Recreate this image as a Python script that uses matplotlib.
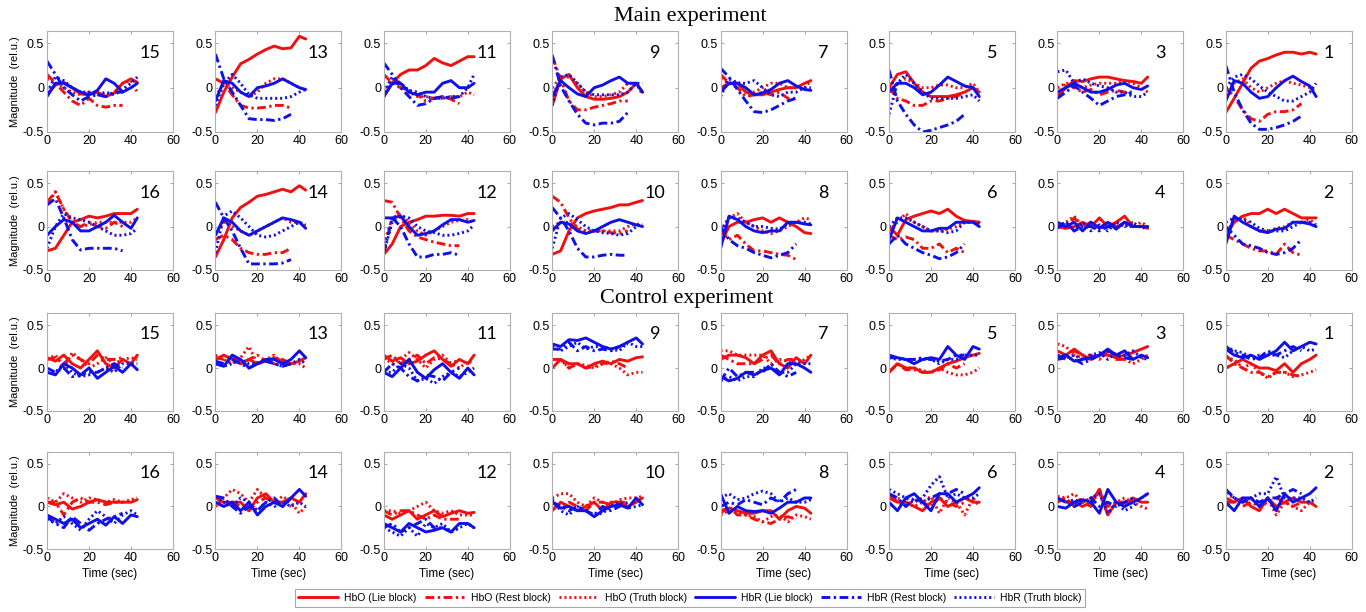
import numpy as np
import matplotlib.pyplot as plt

# time axis (sec)
t_full = [0, 4, 8, 12, 16, 20, 24, 28, 32, 36, 40, 43]
t_rest = [0, 4, 8, 12, 16, 20, 24, 28, 32, 36]

ids_upper = [15, 13, 11, 9, 7, 5, 3, 1]
ids_lower = [16, 14, 12, 10, 8, 6, 4, 2]

# ---------------- Main experiment, upper row ----------------
main_up_hbo_lie = [
    [-0.08, 0.03, 0.06, 0.0, -0.07, -0.08, -0.05, -0.1, -0.06, 0.05, 0.1, 0.06],
    [-0.28, -0.05, 0.12, 0.27, 0.32, 0.38, 0.43, 0.47, 0.44, 0.45, 0.58, 0.55],
    [-0.1, 0.05, 0.15, 0.2, 0.2, 0.25, 0.33, 0.28, 0.25, 0.3, 0.35, 0.35],
    [-0.2, 0.1, 0.15, 0.0, -0.1, -0.13, -0.13, -0.12, -0.1, -0.05, 0.05, -0.05],
    [0.0, 0.05, 0.05, -0.05, -0.08, -0.08, -0.05, -0.02, 0.0, 0.0, 0.05, 0.08],
    [0.0, 0.15, 0.18, 0.05, -0.05, -0.1, -0.1, -0.1, -0.08, -0.05, 0.0, -0.05],
    [-0.1, 0.0, 0.08, 0.07, 0.1, 0.12, 0.12, 0.1, 0.08, 0.07, 0.05, 0.12],
    [-0.28, -0.12, 0.05, 0.22, 0.3, 0.33, 0.37, 0.4, 0.4, 0.38, 0.4, 0.38],
]
main_up_hbo_rest = [
    [0.15, 0.05, -0.05, -0.15, -0.2, -0.12, -0.2, -0.22, -0.2, -0.2],
    [0.1, 0.05, -0.08, -0.2, -0.23, -0.23, -0.22, -0.2, -0.2, -0.23],
    [0.15, 0.05, 0.0, -0.03, -0.08, -0.15, -0.12, -0.1, -0.13, -0.18],
    [0.35, 0.1, -0.15, -0.25, -0.25, -0.22, -0.2, -0.18, -0.15, -0.15],
    [0.15, 0.05, 0.0, -0.1, -0.08, -0.05, -0.08, -0.05, -0.12, -0.12],
    [0.0, -0.12, -0.15, -0.2, -0.2, -0.15, -0.15, -0.12, -0.1, -0.05],
    [-0.1, 0.05, 0.0, -0.05, -0.02, -0.08, -0.05, -0.03, -0.05, -0.05],
    [0.0, -0.1, -0.25, -0.35, -0.38, -0.3, -0.27, -0.27, -0.25, -0.18],
]
main_up_hbo_truth = [
    [0.1, 0.06, 0.0, -0.05, -0.08, -0.05, -0.08, -0.1, -0.05, 0.05, 0.08, -0.05],
    [-0.1, 0.05, 0.0, -0.05, -0.1, -0.05, 0.05, 0.1, 0.1, 0.05, 0.0, -0.02],
    [-0.1, 0.1, 0.05, -0.05, -0.1, -0.1, -0.12, -0.12, -0.1, -0.1, -0.05, -0.08],
    [0.0, 0.12, 0.12, 0.05, -0.05, -0.1, -0.1, -0.08, -0.05, 0.05, 0.05, -0.08],
    [0.1, 0.05, 0.08, -0.05, -0.05, 0.0, 0.05, 0.05, 0.0, 0.0, 0.0, 0.08],
    [-0.05, 0.05, 0.1, 0.05, 0.0, 0.0, 0.03, 0.03, 0.0, 0.0, 0.05, -0.05],
    [0.0, 0.05, 0.05, 0.0, 0.03, 0.05, 0.05, 0.05, 0.08, 0.05, 0.0, -0.05],
    [-0.1, 0.05, 0.1, 0.0, -0.05, 0.0, 0.05, 0.08, 0.05, 0.03, 0.0, -0.05],
]
main_up_hbr_lie = [
    [-0.1, 0.05, 0.05, 0.0, -0.05, -0.08, -0.03, 0.1, 0.05, -0.05, 0.0, 0.05],
    [-0.15, 0.08, 0.05, -0.05, -0.1, 0.0, 0.02, 0.05, 0.1, 0.05, 0.0, -0.02],
    [-0.1, 0.05, 0.05, -0.05, -0.08, -0.05, -0.05, 0.05, 0.08, 0.0, 0.0, 0.05],
    [-0.1, 0.08, 0.0, -0.07, -0.1, 0.0, 0.03, 0.08, 0.12, 0.05, 0.05, -0.05],
    [-0.05, 0.05, 0.05, 0.0, -0.08, -0.06, -0.02, 0.05, 0.08, 0.02, -0.02, -0.03],
    [-0.05, 0.05, 0.05, 0.0, -0.08, -0.05, 0.03, 0.12, 0.07, 0.02, 0.0, -0.1],
    [-0.05, 0.0, 0.05, 0.0, -0.05, -0.05, -0.02, 0.03, 0.05, 0.0, -0.02, 0.02],
    [-0.15, 0.08, 0.05, -0.05, -0.12, -0.1, 0.0, 0.08, 0.13, 0.07, 0.02, -0.1],
]
main_up_hbr_rest = [
    [0.3, 0.15, 0.0, -0.08, -0.15, -0.1, -0.08, -0.1, -0.05, -0.05],
    [0.38, 0.1, -0.05, -0.2, -0.35, -0.36, -0.36, -0.37, -0.35, -0.3],
    [0.28, 0.15, 0.0, -0.1, -0.2, -0.18, -0.12, -0.1, -0.12, -0.1],
    [0.37, 0.02, -0.15, -0.3, -0.4, -0.42, -0.4, -0.4, -0.38, -0.28],
    [0.22, 0.12, -0.02, -0.15, -0.27, -0.28, -0.25, -0.2, -0.15, -0.12],
    [0.2, -0.15, -0.3, -0.42, -0.5, -0.48, -0.45, -0.42, -0.38, -0.3],
    [-0.12, -0.05, 0.02, -0.05, -0.12, -0.2, -0.15, -0.1, -0.08, -0.05],
    [0.25, -0.05, -0.25, -0.4, -0.47, -0.47, -0.45, -0.42, -0.38, -0.32],
]
main_up_hbr_truth = [
    [-0.05, 0.12, 0.08, 0.0, -0.05, -0.05, -0.08, -0.05, -0.08, -0.02, 0.05, 0.12],
    [-0.2, 0.05, 0.15, 0.05, -0.08, -0.12, -0.12, -0.12, -0.12, -0.1, -0.05, -0.02],
    [-0.05, 0.12, 0.05, -0.03, -0.05, -0.1, -0.12, -0.12, -0.1, -0.1, 0.0, 0.15],
    [-0.2, 0.12, 0.15, 0.05, -0.05, -0.08, -0.08, -0.08, -0.08, -0.05, 0.05, 0.05],
    [-0.1, 0.1, 0.05, 0.05, 0.08, 0.0, -0.08, -0.1, -0.05, -0.05, 0.0, 0.0],
    [-0.3, 0.05, 0.15, 0.05, -0.05, -0.12, -0.12, -0.12, -0.12, -0.1, -0.08, -0.15],
    [0.18, 0.2, 0.05, 0.1, 0.05, 0.02, 0.0, -0.05, -0.05, -0.1, -0.1, -0.05],
    [0.0, 0.12, 0.15, 0.1, 0.02, -0.05, -0.1, -0.15, -0.15, -0.1, -0.05, 0.05],
]

# ---------------- Main experiment, lower row ----------------
main_lo_hbo_lie = [
    [-0.28, -0.25, -0.1, 0.05, 0.08, 0.12, 0.1, 0.12, 0.15, 0.15, 0.15, 0.2],
    [-0.35, -0.15, 0.1, 0.22, 0.28, 0.35, 0.37, 0.4, 0.43, 0.4, 0.47, 0.42],
    [-0.32, -0.2, 0.0, 0.05, 0.08, 0.12, 0.12, 0.13, 0.13, 0.12, 0.15, 0.15],
    [-0.32, -0.28, -0.05, 0.1, 0.15, 0.18, 0.2, 0.22, 0.25, 0.25, 0.28, 0.3],
    [-0.2, 0.0, 0.05, 0.05, 0.08, 0.1, 0.05, 0.1, 0.05, 0.0, -0.07, -0.08],
    [0.0, -0.1, 0.08, 0.12, 0.15, 0.18, 0.15, 0.2, 0.12, 0.07, 0.06, 0.05],
    [0.0, -0.02, 0.0, 0.05, 0.0, 0.1, 0.0, 0.05, 0.12, 0.0, 0.0, -0.02],
    [-0.1, 0.05, 0.12, 0.15, 0.15, 0.2, 0.15, 0.2, 0.15, 0.1, 0.1, 0.1],
]
main_lo_hbo_rest = [
    [0.28, 0.4, 0.2, 0.05, 0.0, 0.05, 0.0, -0.02, 0.05, 0.0],
    [-0.15, -0.1, -0.15, -0.25, -0.3, -0.32, -0.32, -0.3, -0.3, -0.25],
    [0.3, 0.28, 0.1, -0.05, -0.12, -0.15, -0.18, -0.2, -0.22, -0.22],
    [0.35, 0.28, 0.1, -0.03, -0.05, -0.05, -0.05, -0.07, -0.08, -0.05],
    [-0.05, -0.15, -0.1, -0.2, -0.28, -0.28, -0.3, -0.32, -0.33, -0.38],
    [-0.1, -0.15, -0.12, -0.15, -0.25, -0.25, -0.2, -0.3, -0.25, -0.3],
    [0.02, -0.02, 0.1, 0.0, 0.05, -0.02, 0.05, 0.0, 0.03, 0.05],
    [-0.1, -0.15, -0.2, -0.25, -0.28, -0.28, -0.32, -0.2, -0.3, -0.33],
]
main_lo_hbo_truth = [
    [0.25, 0.4, 0.2, 0.05, 0.0, 0.02, 0.05, 0.05, 0.05, 0.05, 0.05, 0.1],
    [-0.1, 0.05, 0.0, -0.05, -0.1, -0.05, 0.0, 0.05, 0.1, 0.05, 0.05, 0.0],
    [-0.2, 0.1, 0.15, 0.05, -0.05, -0.1, -0.05, 0.0, 0.05, 0.07, 0.08, 0.05],
    [0.0, 0.05, 0.05, 0.0, -0.05, -0.05, -0.05, -0.05, -0.05, 0.0, 0.03, 0.02],
    [-0.05, 0.1, 0.15, 0.05, 0.0, -0.05, -0.08, -0.05, 0.0, 0.05, 0.1, 0.08],
    [-0.05, 0.05, 0.15, 0.05, 0.0, -0.05, -0.05, -0.03, 0.0, 0.05, 0.05, 0.05],
    [0.0, 0.05, 0.12, 0.0, 0.05, 0.0, 0.0, 0.05, 0.0, 0.0, 0.05, 0.0],
    [-0.05, 0.05, 0.12, 0.0, -0.05, -0.05, -0.02, 0.0, 0.05, 0.05, 0.08, 0.02],
]
main_lo_hbr_lie = [
    [-0.1, 0.0, 0.08, 0.05, -0.05, -0.05, 0.0, 0.05, 0.13, 0.05, -0.02, 0.1],
    [-0.1, 0.1, 0.05, -0.05, -0.1, -0.05, 0.0, 0.05, 0.1, 0.08, 0.05, -0.02],
    [0.1, 0.1, 0.12, 0.0, -0.1, -0.08, -0.05, 0.02, 0.08, 0.08, 0.05, 0.07],
    [-0.05, 0.05, 0.03, -0.05, -0.08, -0.05, 0.0, 0.05, 0.08, 0.05, 0.02, 0.0],
    [-0.25, 0.12, 0.08, 0.0, -0.05, -0.07, -0.05, -0.05, 0.05, 0.05, 0.03, 0.02],
    [-0.15, 0.1, 0.05, 0.0, -0.05, -0.05, -0.02, -0.02, 0.05, 0.05, 0.05, 0.0],
    [0.05, 0.0, 0.05, -0.05, 0.05, -0.02, 0.05, -0.03, 0.05, 0.0, 0.0, 0.0],
    [-0.2, 0.12, 0.05, 0.0, -0.05, -0.07, -0.03, -0.02, 0.05, 0.05, 0.03, 0.0],
]
main_lo_hbr_rest = [
    [0.25, 0.32, 0.1, -0.15, -0.27, -0.25, -0.25, -0.25, -0.25, -0.28],
    [0.28, 0.1, -0.05, -0.25, -0.43, -0.43, -0.43, -0.43, -0.42, -0.38],
    [-0.3, 0.1, 0.0, -0.2, -0.35, -0.35, -0.32, -0.32, -0.3, -0.33],
    [0.22, 0.1, -0.05, -0.25, -0.35, -0.35, -0.33, -0.32, -0.33, -0.33],
    [0.0, -0.15, -0.22, -0.25, -0.3, -0.33, -0.36, -0.33, -0.3, -0.2],
    [-0.2, -0.1, -0.2, -0.25, -0.3, -0.33, -0.37, -0.35, -0.3, -0.2],
    [-0.02, 0.05, -0.05, 0.0, 0.0, -0.05, 0.0, -0.02, 0.05, 0.0],
    [0.0, -0.1, -0.2, -0.22, -0.25, -0.3, -0.32, -0.3, -0.25, -0.15],
]
main_lo_hbr_truth = [
    [-0.25, 0.0, 0.15, 0.1, 0.08, 0.05, 0.0, -0.05, -0.1, -0.1, -0.08, -0.02],
    [-0.3, 0.12, 0.18, 0.1, 0.0, -0.1, -0.12, -0.1, -0.05, 0.0, 0.05, 0.02],
    [-0.3, 0.05, 0.12, 0.1, 0.0, -0.05, -0.07, -0.1, -0.1, -0.08, -0.05, 0.02],
    [-0.25, 0.1, 0.15, 0.08, 0.0, -0.05, -0.07, -0.08, -0.1, -0.08, 0.0, 0.03],
    [-0.05, 0.1, 0.1, 0.05, 0.0, 0.0, -0.02, -0.03, 0.03, 0.05, 0.05, 0.03],
    [0.0, 0.1, 0.1, 0.05, 0.0, -0.05, -0.05, -0.07, -0.05, 0.05, 0.05, 0.03],
    [0.0, 0.05, -0.05, 0.05, -0.05, 0.02, -0.05, 0.05, 0.0, 0.05, -0.02, 0.0],
    [0.05, 0.1, 0.08, 0.05, -0.02, -0.05, -0.05, -0.05, 0.0, 0.05, 0.05, 0.0],
]

# ---------------- Control experiment, upper row ----------------
ctrl_up_hbo_lie = [
    [0.12, 0.08, 0.15, 0.05, 0.0, 0.1, 0.2, 0.05, 0.0, 0.1, 0.05, 0.15],
    [0.1, 0.15, 0.1, 0.05, 0.1, 0.05, 0.08, 0.12, 0.08, 0.05, 0.08, 0.12],
    [0.15, 0.08, 0.12, 0.05, 0.08, 0.15, 0.2, 0.1, 0.02, 0.1, 0.05, 0.15],
    [0.0, 0.1, 0.05, 0.05, 0.0, 0.05, 0.08, 0.05, 0.1, 0.08, 0.12, 0.13],
    [0.1, 0.15, 0.15, 0.12, 0.05, 0.15, 0.2, 0.05, 0.0, 0.12, 0.05, 0.15],
    [-0.05, 0.05, 0.0, 0.0, -0.05, -0.05, 0.0, 0.05, 0.08, 0.12, 0.15, 0.17],
    [0.2, 0.15, 0.22, 0.15, 0.1, 0.15, 0.15, 0.12, 0.15, 0.18, 0.22, 0.25],
    [0.0, 0.05, 0.1, 0.05, 0.0, 0.0, -0.03, 0.05, -0.05, 0.05, 0.1, 0.15],
]
ctrl_up_hbo_rest = [
    [0.1, 0.12, 0.05, 0.15, 0.1, 0.05, 0.15, 0.1, 0.1, 0.12],
    [0.12, 0.1, 0.15, 0.05, 0.1, 0.15, 0.08, 0.05, 0.1, 0.05],
    [0.1, 0.15, 0.05, 0.1, 0.15, 0.05, 0.12, 0.1, 0.05, 0.1],
    [0.1, 0.1, 0.0, 0.05, 0.0, 0.02, 0.05, 0.08, 0.05, 0.0],
    [0.15, 0.1, 0.05, 0.05, 0.05, 0.1, 0.15, 0.05, 0.1, 0.1],
    [-0.05, 0.05, -0.02, -0.02, -0.05, -0.05, -0.02, 0.05, 0.0, 0.05],
    [0.15, 0.1, 0.2, 0.15, 0.15, 0.1, 0.2, 0.1, 0.1, 0.15],
    [0.15, 0.05, 0.0, -0.05, -0.05, -0.1, -0.05, -0.05, -0.08, -0.1],
]
ctrl_up_hbo_truth = [
    [0.1, 0.15, 0.0, 0.18, 0.1, 0.0, 0.05, 0.12, 0.05, 0.1, 0.12, 0.1],
    [0.15, 0.1, 0.05, 0.12, 0.25, 0.05, 0.1, 0.15, 0.05, 0.05, 0.05, 0.0],
    [0.12, 0.05, 0.1, 0.18, 0.1, 0.0, 0.1, 0.15, 0.05, 0.0, 0.08, 0.05],
    [0.1, 0.1, 0.0, 0.05, 0.03, 0.0, 0.05, 0.05, 0.0, -0.08, -0.05, -0.05],
    [0.2, 0.2, 0.15, 0.15, 0.15, 0.15, 0.05, 0.1, 0.08, 0.05, 0.1, 0.15],
    [-0.05, 0.05, 0.0, 0.0, -0.03, -0.05, 0.0, -0.05, -0.08, -0.08, -0.05, 0.0],
    [0.28, 0.25, 0.15, 0.12, 0.1, 0.15, 0.18, 0.12, 0.1, 0.05, 0.1, 0.15],
    [0.12, 0.1, 0.0, 0.05, -0.05, -0.12, -0.05, -0.05, -0.1, -0.08, -0.05, -0.02],
]
ctrl_up_hbr_lie = [
    [-0.05, -0.08, 0.05, 0.0, -0.08, 0.0, -0.12, -0.05, 0.02, -0.05, 0.05, -0.02],
    [0.05, 0.02, 0.15, 0.1, 0.0, 0.05, 0.1, 0.1, 0.05, 0.1, 0.2, 0.12],
    [-0.05, -0.1, 0.0, 0.1, -0.05, -0.12, -0.02, 0.05, -0.05, -0.12, 0.0, -0.08],
    [0.28, 0.25, 0.33, 0.32, 0.35, 0.3, 0.25, 0.22, 0.25, 0.3, 0.35, 0.28],
    [-0.1, -0.15, -0.12, -0.05, -0.08, -0.03, 0.0, -0.08, 0.05, 0.05, 0.0, -0.05],
    [0.15, 0.12, 0.1, 0.05, 0.1, 0.12, 0.1, 0.25, 0.15, 0.1, 0.25, 0.22],
    [0.12, 0.15, 0.08, 0.1, 0.12, 0.15, 0.22, 0.15, 0.2, 0.1, 0.15, 0.12],
    [0.22, 0.15, 0.12, 0.15, 0.1, 0.15, 0.2, 0.3, 0.2, 0.25, 0.3, 0.28],
]
ctrl_up_hbr_rest = [
    [0.0, -0.05, 0.0, -0.1, -0.08, -0.05, -0.05, 0.0, 0.05, 0.0],
    [0.08, 0.05, 0.1, 0.05, 0.0, 0.05, 0.08, 0.05, 0.02, 0.05],
    [-0.05, 0.05, 0.0, -0.1, -0.15, -0.08, -0.1, -0.15, -0.05, 0.0],
    [0.22, 0.22, 0.3, 0.2, 0.25, 0.2, 0.22, 0.2, 0.25, 0.28],
    [-0.15, 0.0, -0.1, -0.05, -0.05, -0.05, 0.05, -0.05, -0.1, -0.05],
    [0.12, 0.12, 0.1, 0.1, 0.12, 0.1, 0.08, 0.1, 0.15, 0.15],
    [0.1, 0.12, 0.1, 0.05, 0.1, 0.15, 0.2, 0.15, 0.12, 0.1],
    [0.25, 0.18, 0.15, 0.1, 0.12, 0.2, 0.15, 0.2, 0.25, 0.2],
]
ctrl_up_hbr_truth = [
    [-0.05, -0.05, 0.05, -0.05, -0.1, -0.08, -0.05, 0.0, -0.05, 0.05, 0.05, 0.05],
    [0.05, 0.02, 0.05, 0.1, 0.05, 0.05, 0.1, 0.05, 0.02, 0.05, 0.1, 0.05],
    [-0.05, -0.05, 0.05, 0.0, -0.15, -0.12, -0.18, -0.1, -0.05, -0.1, -0.05, 0.0],
    [0.25, 0.2, 0.25, 0.3, 0.22, 0.25, 0.25, 0.22, 0.2, 0.3, 0.25, 0.25],
    [-0.15, -0.1, -0.15, -0.1, -0.1, 0.0, 0.0, -0.05, -0.05, 0.05, 0.05, 0.05],
    [0.12, 0.1, 0.1, 0.1, 0.1, 0.1, 0.05, 0.1, 0.1, 0.15, 0.15, 0.15],
    [0.15, 0.12, 0.15, 0.1, 0.15, 0.18, 0.1, 0.18, 0.15, 0.2, 0.12, 0.1],
    [0.25, 0.2, 0.18, 0.12, 0.15, 0.15, 0.15, 0.12, 0.2, 0.25, 0.2, 0.22],
]

# ---------------- Control experiment, lower row ----------------
ctrl_lo_hbo_lie = [
    [0.05, 0.02, 0.05, -0.03, 0.0, 0.05, 0.08, 0.05, 0.05, 0.05, 0.05, 0.08],
    [0.1, 0.05, 0.05, 0.05, -0.05, 0.1, 0.15, 0.05, 0.05, 0.1, 0.05, 0.15],
    [-0.1, -0.15, -0.1, -0.05, -0.15, -0.1, -0.05, -0.12, -0.08, -0.05, -0.08, -0.07],
    [-0.05, 0.05, 0.0, -0.05, 0.0, 0.05, -0.05, 0.05, 0.05, 0.0, 0.05, 0.1],
    [-0.05, -0.02, -0.05, -0.08, -0.08, -0.05, -0.05, -0.15, -0.05, 0.0, -0.02, -0.08],
    [0.15, 0.05, 0.05, 0.0, -0.05, 0.05, 0.1, 0.0, 0.05, 0.1, 0.05, 0.05],
    [0.1, 0.05, 0.05, 0.0, 0.05, 0.2, -0.1, 0.05, 0.0, 0.1, 0.05, 0.05],
    [0.1, 0.05, 0.1, 0.0, -0.05, 0.1, 0.0, 0.05, 0.1, 0.05, 0.05, 0.0],
]
ctrl_lo_hbo_rest = [
    [0.05, 0.05, -0.1, 0.05, 0.1, 0.05, 0.05, 0.02, 0.05, 0.05],
    [0.05, 0.0, 0.05, 0.0, -0.05, 0.05, 0.1, 0.05, 0.05, 0.0],
    [-0.05, -0.1, -0.05, -0.05, -0.1, -0.15, -0.1, -0.15, -0.15, -0.15],
    [0.05, 0.0, 0.05, 0.0, -0.05, 0.05, 0.05, 0.02, 0.05, 0.05],
    [-0.08, 0.0, -0.1, -0.1, -0.15, -0.18, -0.2, -0.15, -0.12, -0.15],
    [0.1, 0.05, 0.0, 0.08, 0.05, 0.0, 0.1, 0.05, 0.0, 0.05],
    [0.05, 0.1, 0.0, 0.05, 0.0, 0.2, 0.0, 0.05, 0.05, 0.05],
    [0.05, 0.05, 0.0, 0.05, 0.0, 0.05, 0.1, 0.05, 0.0, 0.05],
]
ctrl_lo_hbo_truth = [
    [0.1, 0.05, 0.15, 0.1, 0.05, 0.1, 0.08, 0.05, 0.08, 0.05, 0.08, 0.1],
    [0.0, 0.1, 0.2, 0.15, 0.05, 0.2, 0.1, 0.05, 0.12, 0.05, -0.08, 0.0],
    [-0.05, -0.05, -0.08, -0.05, 0.0, 0.05, -0.05, -0.08, -0.05, -0.1, -0.1, -0.1],
    [0.1, 0.15, 0.15, 0.05, 0.0, 0.1, 0.05, 0.02, 0.08, 0.1, 0.1, 0.12],
    [-0.1, -0.05, -0.08, -0.1, -0.12, -0.18, -0.12, -0.1, -0.18, -0.1, -0.12, -0.15],
    [0.15, 0.1, 0.05, 0.0, 0.05, 0.12, -0.08, 0.1, 0.05, -0.1, 0.1, 0.0],
    [0.12, 0.1, 0.15, 0.05, 0.1, 0.15, -0.1, 0.05, 0.1, 0.05, 0.0, -0.03],
    [0.15, 0.1, 0.05, 0.1, 0.0, 0.1, -0.1, 0.05, 0.0, -0.05, 0.05, 0.03],
]
ctrl_lo_hbr_lie = [
    [-0.1, -0.15, -0.2, -0.15, -0.25, -0.2, -0.15, -0.22, -0.12, -0.2, -0.1, -0.12],
    [0.05, 0.0, 0.05, -0.05, 0.05, -0.1, 0.0, 0.05, 0.0, 0.1, 0.2, 0.12],
    [-0.2, -0.25, -0.3, -0.2, -0.25, -0.3, -0.28, -0.25, -0.3, -0.2, -0.2, -0.25],
    [0.05, -0.02, 0.0, -0.05, -0.05, -0.12, -0.05, 0.0, 0.02, -0.02, 0.1, 0.02],
    [0.15, -0.08, 0.0, -0.05, -0.06, -0.05, -0.08, -0.02, 0.05, 0.05, 0.1, 0.1],
    [0.05, -0.05, 0.1, 0.15, 0.05, -0.05, 0.15, 0.15, 0.05, 0.1, 0.15, 0.22],
    [0.0, -0.02, 0.05, 0.08, 0.05, -0.08, 0.2, 0.05, 0.0, 0.05, 0.1, 0.15],
    [0.05, -0.05, 0.1, 0.1, 0.0, 0.1, -0.05, 0.15, 0.05, 0.1, 0.15, 0.22],
]
ctrl_lo_hbr_rest = [
    [-0.12, -0.2, -0.25, -0.12, -0.2, -0.28, -0.2, -0.15, -0.12, -0.08],
    [0.12, 0.1, 0.0, -0.08, 0.0, -0.05, 0.05, 0.1, 0.0, 0.1],
    [-0.25, -0.2, -0.3, -0.25, -0.2, -0.15, -0.25, -0.25, -0.3, -0.25],
    [0.05, 0.0, -0.05, 0.0, -0.05, -0.1, 0.0, -0.05, 0.0, 0.05],
    [0.0, 0.05, 0.02, 0.08, 0.05, 0.02, 0.1, 0.05, 0.15, 0.2],
    [0.15, 0.1, 0.0, 0.1, 0.05, 0.1, 0.15, 0.15, 0.2, 0.15],
    [0.1, 0.05, 0.0, 0.05, 0.1, 0.0, 0.05, 0.0, 0.05, 0.1],
    [0.2, 0.1, 0.05, 0.1, 0.05, 0.1, 0.1, 0.15, 0.2, 0.15],
]
ctrl_lo_hbr_truth = [
    [-0.15, -0.2, -0.12, -0.2, -0.28, -0.15, -0.05, -0.12, -0.2, -0.1, -0.05, -0.1],
    [0.12, 0.05, 0.0, 0.1, 0.05, -0.05, 0.05, 0.0, 0.05, 0.0, 0.05, 0.0],
    [-0.25, -0.3, -0.35, -0.25, -0.35, -0.2, -0.25, -0.2, -0.3, -0.25, -0.2, -0.25],
    [0.08, -0.05, -0.1, 0.0, -0.05, -0.1, -0.08, 0.0, 0.05, -0.02, 0.0, 0.02],
    [0.1, 0.15, 0.08, 0.1, 0.15, 0.18, 0.15, 0.05, 0.1, 0.05, 0.05, 0.08],
    [0.2, 0.15, 0.1, 0.05, 0.1, 0.25, 0.35, 0.1, 0.15, 0.1, 0.1, 0.15],
    [0.1, 0.05, 0.08, 0.05, 0.1, 0.15, -0.08, 0.05, -0.05, 0.0, 0.1, 0.15],
    [0.2, 0.1, 0.05, 0.1, 0.15, 0.15, 0.35, 0.1, 0.1, 0.1, 0.05, 0.1],
]

series_labels = ['HbO (Lie block)', 'HbO (Rest block)', 'HbO (Truth block)',
                 'HbR (Lie block)', 'HbR (Rest block)', 'HbR (Truth block)']

RED = '#f01010'
BLUE = '#1010e8'
DASHDOT = (0, (3.0, 1.2, 0.8, 1.2))
DOTTED = (0, (0.7, 1.0))
styles = [(RED, '-'), (RED, DASHDOT), (RED, DOTTED),
          (BLUE, '-'), (BLUE, DASHDOT), (BLUE, DOTTED)]

rows = [
    (ids_upper, [main_up_hbo_lie, main_up_hbo_rest, main_up_hbo_truth,
                 main_up_hbr_lie, main_up_hbr_rest, main_up_hbr_truth]),
    (ids_lower, [main_lo_hbo_lie, main_lo_hbo_rest, main_lo_hbo_truth,
                 main_lo_hbr_lie, main_lo_hbr_rest, main_lo_hbr_truth]),
    (ids_upper, [ctrl_up_hbo_lie, ctrl_up_hbo_rest, ctrl_up_hbo_truth,
                 ctrl_up_hbr_lie, ctrl_up_hbr_rest, ctrl_up_hbr_truth]),
    (ids_lower, [ctrl_lo_hbo_lie, ctrl_lo_hbo_rest, ctrl_lo_hbo_truth,
                 ctrl_lo_hbr_lie, ctrl_lo_hbr_rest, ctrl_lo_hbr_truth]),
]

# pixel geometry of the panels (top, bottom) for each row
W, H = 1366, 612
row_px = [(31, 132), (171, 270), (313, 411), (452, 549)]
col_left0, col_pitch, col_w = 47, 168.4, 126

plt.rcParams['font.family'] = ['Liberation Sans', 'DejaVu Sans']

fig = plt.figure(figsize=(W / 100, H / 100), dpi=100)
handles = None

for r, (ids, series) in enumerate(rows):
    top, bot = row_px[r]
    for c in range(8):
        left = col_left0 + c * col_pitch
        ax = fig.add_axes([left / W, 1 - bot / H, col_w / W, (bot - top) / H])
        lines = []
        for s, data in enumerate(series):
            col, ls = styles[s]
            t = t_rest if s in (1, 4) else t_full
            ln, = ax.plot(t, data[c], color=col, linestyle=ls, linewidth=2.1,
                          solid_capstyle='round', label=series_labels[s])
            lines.append(ln)
        if handles is None:
            handles = lines
        ax.set_xlim(0, 60)
        ax.set_ylim(-0.5, 0.64)
        ax.set_xticks([0, 20, 40, 60])
        ax.set_yticks([-0.5, 0, 0.5])
        ax.set_yticklabels(['-0.5', '0', '0.5'])
        ax.tick_params(direction='in', length=2, width=0.6, color='#999999',
                       labelsize=9, pad=2, top=True, right=True)
        for sp in ax.spines.values():
            sp.set_color('#b0b0b0')
            sp.set_linewidth(0.8)
        ax.text(49, 0.39, str(ids[c]), fontsize=13, ha='center', va='center',
                family=['Lato', 'DejaVu Sans'])
        if c == 0:
            ax.set_ylabel('Magnitude  (rel.u.)', fontsize=8, labelpad=2)
        if r == 3:
            ax.set_xlabel('Time (sec)', fontsize=8.5, labelpad=3)

fig.text(690 / W, 1 - 16 / H, 'Main experiment', ha='center', va='center',
         fontsize=16, family=['Liberation Serif', 'DejaVu Serif'])
fig.text(687 / W, 1 - 298 / H, 'Control experiment', ha='center', va='center',
         fontsize=16, family=['Liberation Serif', 'DejaVu Serif'])

leg = fig.legend(handles, series_labels, loc='center', ncol=6,
                 bbox_to_anchor=(690 / W, 1 - 598 / H), fontsize=7.5,
                 handlelength=3.8, handletextpad=0.6, columnspacing=0.8,
                 frameon=True, fancybox=False, borderpad=0.35)
leg.get_frame().set_edgecolor('#909090')
leg.get_frame().set_linewidth(0.8)

fig.savefig('out.png', dpi=100)
